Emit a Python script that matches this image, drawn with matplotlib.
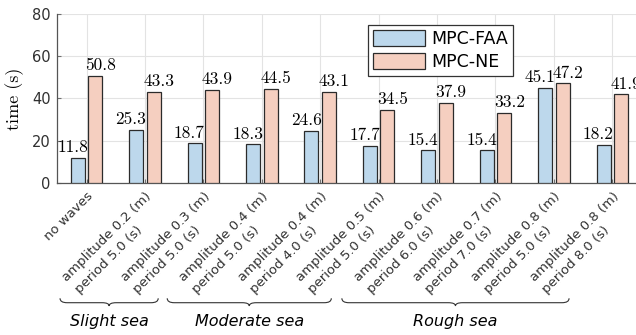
import matplotlib
matplotlib.use('Agg')
import matplotlib.pyplot as plt
import matplotlib.transforms as mtransforms
from matplotlib.path import Path
from matplotlib.patches import PathPatch
import numpy as np

categories = ['no waves',
              'amplitude 0.2 (m)\nperiod 5.0 (s)',
              'amplitude 0.3 (m)\nperiod 5.0 (s)',
              'amplitude 0.4 (m)\nperiod 5.0 (s)',
              'amplitude 0.4 (m)\nperiod 4.0 (s)',
              'amplitude 0.5 (m)\nperiod 5.0 (s)',
              'amplitude 0.6 (m)\nperiod 6.0 (s)',
              'amplitude 0.7 (m)\nperiod 7.0 (s)',
              'amplitude 0.8 (m)\nperiod 5.0 (s)',
              'amplitude 0.8 (m)\nperiod 8.0 (s)']
mpc_faa = [11.8, 25.3, 18.7, 18.3, 24.6, 17.7, 15.4, 15.4, 45.1, 18.2]
mpc_ne = [50.8, 43.3, 43.9, 44.5, 43.1, 34.5, 37.9, 33.2, 47.2, 41.9]
sea_states = ['Slight sea', 'Moderate sea', 'Rough sea']
sea_spans = [(-0.455, 1.226), (1.38, 4.19), (4.37, 8.26)]

blue = '#bdd8ec'
orange = '#f5cfc0'
edge = '#2b2b2b'

fig = plt.figure(figsize=(6.36, 3.35), dpi=100)
ax = fig.add_axes([57.4 / 636, 152 / 335, 584.1 / 636, 169 / 335])

x = np.arange(len(categories))
w = 0.24
off = 0.15
ax.bar(x - off, mpc_faa, w, color=blue, edgecolor=edge, linewidth=0.9,
       label='MPC-FAA', zorder=3)
ax.bar(x + off, mpc_ne, w, color=orange, edgecolor=edge, linewidth=0.9,
       label='MPC-NE', zorder=3)

for xi, v in zip(x, mpc_faa):
    ax.annotate('%.1f' % v, (xi - off, v), xytext=(-3.8, 2.0),
                textcoords='offset points', ha='center', va='bottom',
                family='cmr10', fontsize=12.5, zorder=4)
for xi, v in zip(x, mpc_ne):
    ax.annotate('%.1f' % v, (xi + off, v), xytext=(3.8, 2.0),
                textcoords='offset points', ha='center', va='bottom',
                family='cmr10', fontsize=12.5, zorder=4, annotation_clip=False)

ax.set_xlim(-0.5, 9.5)
ax.set_ylim(0, 80)
ax.set_yticks([0, 20, 40, 60, 80])
ax.set_xticks(x)
ax.set_xticklabels(categories, rotation=45, ha='right', va='top',
                   rotation_mode='anchor', multialignment='left',
                   fontsize=9.5, color='#303030', linespacing=1.45)
ax.tick_params(axis='x', pad=5)
ax.tick_params(axis='y', labelsize=10.5, labelcolor='#303030', pad=5)
ax.tick_params(direction='in', length=3, color='#707070', width=0.8)
ax.grid(True, color='#e3e3e3', linewidth=0.8, zorder=0)
for s in ['top', 'right']:
    ax.spines[s].set_visible(False)
for s in ['left', 'bottom']:
    ax.spines[s].set_color('#555555')
    ax.spines[s].set_linewidth(0.9)

ax.set_ylabel('time (s)', family='cmr10', fontsize=13)
ax.yaxis.set_label_coords(-0.058, 0.5)

leg = ax.legend(loc='upper left', bbox_to_anchor=(0.532, 0.935), fontsize=12.5,
                handlelength=3.0, handleheight=1.05, fancybox=False,
                framealpha=1, edgecolor='#333333', borderpad=0.3,
                labelspacing=0.25, handletextpad=0.35, borderaxespad=0)
leg.get_frame().set_linewidth(0.9)

# curly braces under the tick labels
trans = mtransforms.blended_transform_factory(ax.transData, fig.transFigure)
y_top, y_mid, y_tip = 0.1096, 0.0964, 0.0866
for name, (x0, x1) in zip(sea_states, sea_spans):
    xm = (x0 + x1) / 2
    d = 0.12
    verts = [(x0, y_top), (x0, y_mid), (x0 + d, y_mid),
             (xm - d, y_mid),
             (xm, y_mid), (xm, y_tip),
             (xm, y_mid), (xm + d, y_mid),
             (x1 - d, y_mid),
             (x1, y_mid), (x1, y_top)]
    codes = [Path.MOVETO, Path.CURVE3, Path.CURVE3,
             Path.LINETO,
             Path.CURVE3, Path.CURVE3,
             Path.CURVE3, Path.CURVE3,
             Path.LINETO,
             Path.CURVE3, Path.CURVE3]
    ax.add_patch(PathPatch(Path(verts, codes), transform=trans, fill=False,
                           edgecolor='#333333', linewidth=0.8, clip_on=False))
    ax.text(xm, 0.040, name, transform=trans, ha='center', va='center',
            fontsize=11.5, style='italic')

fig.savefig('out.png', dpi=100)
